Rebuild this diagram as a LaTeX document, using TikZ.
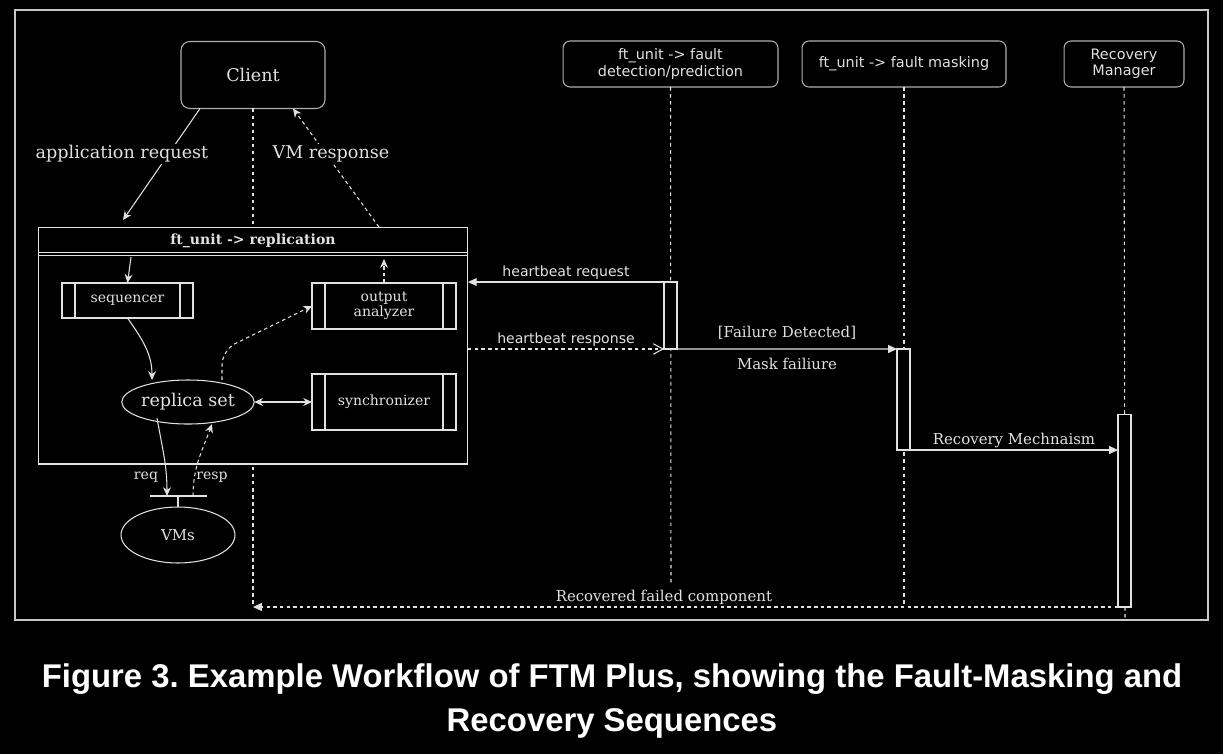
\documentclass[tikz,border=0pt]{standalone}
\usepackage{fontspec}
\setmainfont{DejaVu Serif}
\setsansfont{DejaVu Sans}
\newfontfamily\capfont{Liberation Sans}
\usetikzlibrary{arrows.meta, calc, shapes.geometric}
\definecolor{inkgray}{RGB}{225,225,225}
\definecolor{edgegray}{RGB}{200,200,200}
\definecolor{headgray}{RGB}{175,175,175}
\frenchspacing

\begin{document}
\begin{tikzpicture}[x=0.02cm, y=-0.02cm, line width=0.6pt,
    every node/.style={text=inkgray},
    lane/.style={draw=headgray, rounded corners=4pt, fill=black, minimum height=0.92cm,
                 inner sep=0pt, outer sep=0pt, align=center,
                 font=\sffamily\fontsize{8.2}{9.3}\selectfont},
    proc/.style={draw=inkgray, fill=black, inner sep=0pt, outer sep=0pt, align=center,
                 font=\fontsize{8}{8.8}\selectfont,
                 path picture={
                   \draw[inkgray] ([xshift=0.26cm]path picture bounding box.north west)
                     -- ([xshift=0.26cm]path picture bounding box.south west);
                   \draw[inkgray] ([xshift=-0.26cm]path picture bounding box.north east)
                     -- ([xshift=-0.26cm]path picture bounding box.south east);}},
    oval/.style={draw=inkgray, ellipse, fill=black, inner sep=0pt, outer sep=0pt},
    actbar/.style={draw=inkgray, fill=black, minimum width=0.26cm, inner sep=0pt, outer sep=0pt},
    life/.style={draw=inkgray, dash pattern=on 2pt off 2pt},
    arr/.style={-{Stealth[length=5pt, width=4.5pt]}, draw=inkgray},
    blk/.style={-{Triangle[length=5pt, width=4.5pt]}, draw=inkgray},
    dsh/.style={dash pattern=on 2pt off 1.8pt},
    big/.style={font=\fontsize{10}{12}\selectfont},
    msg/.style={font=\fontsize{8.5}{10}\selectfont, inner sep=1pt},
    smsg/.style={font=\sffamily\fontsize{8}{9.5}\selectfont, inner sep=1pt}
  ]
    %% background and frame
    \fill[black] (0,0) rectangle (1223,754);
    \useasboundingbox (0,0) rectangle (1223,754);
    \draw[edgegray] (15,10) rectangle (1208,620);

    %% Lifeline heads
    \node[lane, big, rounded corners=5pt, minimum width=2.88cm, minimum height=1.34cm] (client) at (253,75) {Client};
    \node[lane, minimum width=4.3cm] (fd) at (670.5,64) {ft\_unit -> fault\\detection/prediction};
    \node[lane, minimum width=4.08cm] (fm) at (904,64) {ft\_unit -> fault masking};
    \node[lane, minimum width=2.4cm] (rm) at (1124,64) {Recovery\\Manager};

    %% Lifelines
    \coordinate (clientend) at (253,607);
    \coordinate (fdend) at (671,584);
    \coordinate (fmend) at (904,605);
    \coordinate (rmend) at (1125,618);
    \draw[life] (client.south) -- (clientend);
    \draw[life] (fd.south) -- (fdend);
    \draw[life] (fm.south) -- (fmend);
    \draw[life] (rm.south) -- (rmend);

    %% Box: ft_unit -> replication
    \node[draw=inkgray, fill=black, minimum width=8.6cm, minimum height=4.74cm,
          inner sep=0pt, outer sep=0pt] (repl) at (253,345.5) {};
    \node[font=\bfseries\fontsize{8}{9.5}\selectfont] (repltitle) at (253,241) {ft\_unit -> replication};
    \draw[inkgray, line width=0.5pt] ([yshift=-0.51cm]repl.north west) -- ([yshift=-0.51cm]repl.north east);
    \draw[inkgray, line width=0.5pt] ([yshift=-0.57cm]repl.north west) -- ([yshift=-0.57cm]repl.north east);

    \node[proc, minimum width=2.62cm, minimum height=0.7cm] (seq) at (127.5,300.5) {sequencer};
    \node[proc, minimum width=2.88cm, minimum height=0.92cm] (out) at (384,306) {output\\analyzer};
    \node[proc, minimum width=2.88cm, minimum height=1.12cm] (sync) at (384,402) {synchronizer};
    \node[oval, big, minimum width=2.64cm, minimum height=0.88cm] (rep) at (188,402) {replica set};

    %% VMs
    \coordinate (vmbar) at (178,496);
    \coordinate (outtip) at (384,259);
    \node[oval, font=\fontsize{8.5}{10}\selectfont, minimum width=2.28cm, minimum height=1.12cm] (vms) at (178,535) {VMs};
    \draw[inkgray] ([xshift=-0.56cm]vmbar) -- ([xshift=0.58cm]vmbar);
    \draw[inkgray] (vmbar) -- (vms.north);

    %% Client side arrows
    \draw[arr] ([xshift=-1.06cm]client.south) -- ([shift={(-2.6cm,0.14cm)}]repl.north);
    \node[big, fill=black, inner sep=1pt] (appreq) at (122,154) {application request};
    \draw[arr, dsh] ([xshift=2.52cm]repl.north) -- ([xshift=0.8cm]client.south);
    \node[big, fill=black, inner sep=1pt] (vmresp) at (331,154) {VM response};

    %% Inside the replication box
    \draw[arr] ([shift={(-2.44cm,-0.6cm)}]repl.north) -- (seq.north);
    \draw[arr] (seq.south) to[out=-55, in=90] ([xshift=-0.72cm]rep.north);
    \draw[arr, dsh, rounded corners=0.3cm] ([xshift=0.68cm]rep.north) -- ++(0,-30) -- (out.west);
    \draw[arr, dsh] (out.north) -- (outtip);
    \draw[{Stealth[length=5pt, width=4.5pt]}-{Stealth[length=5pt, width=4.5pt]}, inkgray] (rep.east) -- (sync.west);
    \draw[arr] ([shift={(-0.62cm,0.12cm)}]rep.south) to[out=-80, in=90] ([xshift=-0.22cm]vmbar);
    \draw[arr, dsh] ([xshift=0.3cm]vmbar) to[out=90, in=-110] ([xshift=0.48cm]rep.south);
    \node[font=\fontsize{8}{9.5}\selectfont] (reqlbl) at (146,477) {req};
    \node[font=\fontsize{8}{9.5}\selectfont] (resplbl) at (212,477) {resp};

    %% Activation bars
    \node[actbar, minimum height=1.34cm] (fdact) at (670.5,315.5) {};
    \node[actbar, minimum height=2.02cm] (fmact) at (903.5,399.5) {};
    \node[actbar, minimum height=3.86cm] (rmact) at (1124.5,510.5) {};

    %% Messages
    \draw[blk] (fdact.north west) -- (fdact.north west -| repl.east)
      node[smsg, midway, above] {heartbeat request};
    \draw[inkgray, dsh, -{Straight Barb[length=5.5pt, width=6pt]}] (fdact.south west -| repl.east) -- (fdact.south west)
      node[smsg, midway, above] {heartbeat response};
    \draw[blk] (fdact.south east) -- (fmact.north west)
      node[msg, midway, above=4pt] {[Failure Detected]}
      node[msg, midway, below=4pt] {Mask failiure};
    \draw[blk] (fmact.south east) -- (fmact.south east -| rmact.west)
      node[msg, midway, above] {Recovery Mechnaism};
    \draw[blk, dsh] (rmact.south west) -- (rmact.south west -| client.south)
      node[msg, pos=0.525, above] {Recovered failed component};

    %% Caption
    \node[text=white, align=center, font=\capfont\bfseries\fontsize{18.7}{25.6}\selectfont] (caption)
      at (612,701) {Figure 3. Example Workflow of FTM Plus, showing the Fault-Masking and\\Recovery Sequences};
  \end{tikzpicture}
\end{document}
